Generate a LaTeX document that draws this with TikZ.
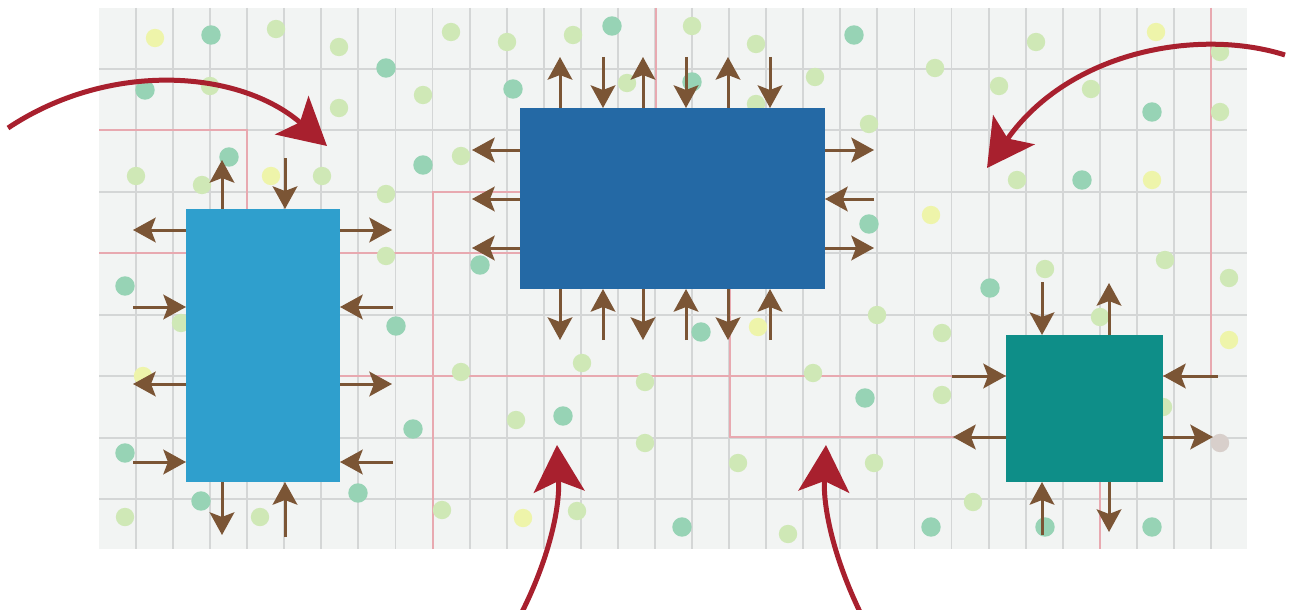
\documentclass[tikz,border=0pt]{standalone}
\usetikzlibrary{arrows.meta}
\definecolor{panelc}{HTML}{F2F4F3}
\definecolor{gridc}{HTML}{D4D6D6}
\definecolor{pinkc}{HTML}{E8A9B0}
\definecolor{lgc}{HTML}{CFE8B6}
\definecolor{mintc}{HTML}{97D3B5}
\definecolor{yelc}{HTML}{EEF4AA}
\definecolor{greyc}{HTML}{D8CFCB}
\definecolor{lbc}{HTML}{2F9FCD}
\definecolor{dbc}{HTML}{2469A5}
\definecolor{tlc}{HTML}{0E8E88}
\definecolor{brownc}{HTML}{7B5535}
\definecolor{redc}{HTML}{A8202E}
\tikzset{
  gridline/.style={draw=gridc, line width=1.4pt},
  pinkline/.style={draw=pinkc, line width=1.4pt},
  boxnode/.style={inner sep=0pt, outer sep=0pt, draw=none},
  barr/.style={draw=brownc, line width=2.25pt, -{Stealth[length=17pt,width=18.5pt,inset=3.5pt]}},
  rarr/.style={draw=redc, line width=3.75pt, -{Stealth[length=35pt,width=38pt,inset=8pt]}},
  lgdot/.style={fill=lgc},
  mintdot/.style={fill=mintc},
  yeldot/.style={fill=yelc},
}
\begin{document}
\begin{tikzpicture}[x=0.75pt,y=-0.75pt]
\useasboundingbox (0,0) rectangle (1292,610);
\fill[white] (0,0) rectangle (1292,610);
% panel
\fill[panelc] (99,8) rectangle (1247,549);
% grid
\foreach \i in {0,...,29} \draw[gridline] ({136+37.07*\i},8) -- ({136+37.07*\i},549);
\foreach \j in {0,...,7} \draw[gridline] (99,{69+61.43*\j}) -- (1247,{69+61.43*\j});
% pink lines
\draw[pinkline] (99,130) -- (247,130) -- (247,215);
\draw[pinkline] (99,253) -- (525,253);
\draw[pinkline] (433,549) -- (433,192) -- (525,192);
\draw[pinkline] (335,376) -- (1010,376);
\draw[pinkline] (730,285) -- (730,437) -- (1010,437);
\draw[pinkline] (656,8) -- (656,112);
\draw[pinkline] (1211,8) -- (1211,376) -- (1160,376);
\draw[pinkline] (1100,478) -- (1100,549);
% dots
\foreach \p in {(155,38),(271,176),(143,376),(523,518),(758,327),(1156,32),(1152,180),(931,215),(1229,340)}
  \fill[yeldot] \p circle[radius=6.9pt];
\foreach \p in {(211,35),(386,68),(145,90),(513,89),(229,157),(423,165),(480,265),(125,286),(396,326),(413,429),(125,453),(201,501),(358,493),(612,26),(854,35),(692,82),(869,224),(701,332),(1152,112),(1082,180),(990,288),(865,398),(931,527),(1045,527),(1152,527),(563,416),(682,527)}
  \fill[mintdot] \p circle[radius=7.3pt];
\foreach \p in {(276,29),(339,47),(451,32),(507,42),(210,86),(339,108),(423,95),(136,176),(202,185),(322,176),(461,156),(386,194),(386,256),(181,323),(461,372),(516,420),(125,517),(260,517),(442,510),(573,35),(692,26),(756,44),(627,83),(756,104),(815,77),(869,124),(877,315),(935,68),(999,86),(1036,42),(1091,89),(1220,52),(1220,112),(1017,180),(1165,260),(1229,278),(1045,269),(942,333),(1100,317),(942,395),(1163,407),(874,463),(973,502),(582,363),(645,382),(645,443),(577,511),(738,463),(813,373),(788,534)}
  \fill[lgdot] \p circle[radius=6.9pt];
\fill[greyc] (1220,443) circle[radius=6.9pt];
% boxes
\node[boxnode, fill=lbc, minimum width=115.5pt, minimum height=204.75pt] (lb) at (263,345.5) {};
\node[boxnode, fill=dbc, minimum width=228.75pt, minimum height=135.75pt] (db) at (672.5,198.5) {};
\node[boxnode, fill=tlc, minimum width=117.75pt, minimum height=110.25pt] (tb) at (1084.5,408.5) {};
% light blue box arrows
\draw[barr] (222,0 |- lb.north) -- (222,160);
\draw[barr] (285,158) -- (285,0 |- lb.north);
\draw[barr] (222,0 |- lb.south) -- (222,535);
\draw[barr] (285,537) -- (285,0 |- lb.south);
\draw[barr] (lb.west |- 0,230) -- (133,230);
\draw[barr] (133,307) -- (lb.west |- 0,307);
\draw[barr] (lb.west |- 0,384) -- (133,384);
\draw[barr] (133,462) -- (lb.west |- 0,462);
\draw[barr] (lb.east |- 0,230) -- (392,230);
\draw[barr] (393,307) -- (lb.east |- 0,307);
\draw[barr] (lb.east |- 0,384) -- (392,384);
\draw[barr] (393,462) -- (lb.east |- 0,462);
% dark blue box arrows
\foreach \x in {560,643,728} {
  \draw[barr] (\x,0 |- db.north) -- (\x,57);
  \draw[barr] (\x,0 |- db.south) -- (\x,340);
}
\foreach \x in {603,686,770} {
  \draw[barr] (\x,57) -- (\x,0 |- db.north);
  \draw[barr] (\x,340) -- (\x,0 |- db.south);
}
\foreach \y in {150,199,248} \draw[barr] (db.west |- 0,\y) -- (472,\y);
\draw[barr] (db.east |- 0,150) -- (874,150);
\draw[barr] (874,199) -- (db.east |- 0,199);
\draw[barr] (db.east |- 0,248) -- (874,248);
% teal box arrows
\draw[barr] (1042,282) -- (1042,0 |- tb.north);
\draw[barr] (1109,0 |- tb.north) -- (1109,283);
\draw[barr] (1042,535) -- (1042,0 |- tb.south);
\draw[barr] (1109,0 |- tb.south) -- (1109,532);
\draw[barr] (952,376) -- (tb.west |- 0,376);
\draw[barr] (tb.west |- 0,437) -- (953,437);
\draw[barr] (1218,376) -- (tb.east |- 0,376);
\draw[barr] (tb.east |- 0,437) -- (1213,437);
% red arrows
\coordinate (r1s) at (8,128);   \coordinate (r1e) at (327,146);
\coordinate (r2s) at (1285,55); \coordinate (r2e) at (987,168);
\coordinate (r3s) at (522,612); \coordinate (r3e) at (557,445);
\coordinate (r4s) at (860,612); \coordinate (r4e) at (826,445);
\draw[rarr] (r1s) .. controls (110,60) and (240,70) .. (r1e);
\draw[rarr] (r2s) .. controls (1200,28) and (1070,50) .. (r2e);
\draw[rarr] (r3s) .. controls (548,560) and (560,510) .. (r3e);
\draw[rarr] (r4s) .. controls (835,560) and (823,510) .. (r4e);
\end{tikzpicture}
\end{document}
